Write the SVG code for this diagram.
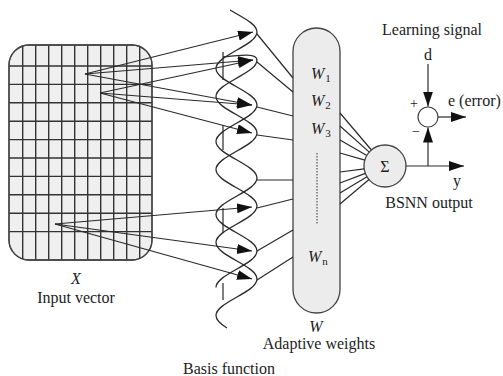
<svg xmlns="http://www.w3.org/2000/svg" width="503" height="376" viewBox="0 0 503 376">
  <style>
    .ln { fill: none; stroke: #2a2a2a; stroke-width: 1.2; }
    .grid { fill: none; stroke: #333; stroke-width: 1.4; }
    .box { fill: #ececec; stroke: #444; stroke-width: 1.3; }
    .wave { fill: none; stroke: #2a2a2a; stroke-width: 1.3; }
    .t { font-family: "Liberation Serif", "Times New Roman", serif; font-size: 16px; fill: #222; }
    .it { font-style: italic; }
    .mid { text-anchor: middle; }
    .sub { font-size: 11px; font-style: normal; }
  </style>
  <defs>
    <marker id="arrow" markerUnits="userSpaceOnUse" markerWidth="16" markerHeight="12" refX="15" refY="5" orient="auto">
      <path d="M0,0 L15,5 L0,10 Z" fill="#111"/>
    </marker>
    <clipPath id="gridClip">
      <rect x="9" y="45" width="143" height="215" rx="20" ry="20"/>
    </clipPath>
  </defs>

  <!-- input vector X: gridded rounded panel -->
  <g id="input-vector">
    <rect class="box" x="9" y="45" width="143" height="215" rx="20" ry="20" style="fill:#efefef"/>
    <path class="grid" clip-path="url(#gridClip)" d="
      M22.7,45V260 M35.7,45V260 M48.7,45V260 M61.7,45V260 M74.7,45V260
      M87.7,45V260 M100.7,45V260 M113.7,45V260 M126.7,45V260 M139.7,45V260
      M9,66H152 M9,84.4H152 M9,102.8H152 M9,121.2H152 M9,139.6H152
      M9,158H152 M9,176.4H152 M9,194.8H152 M9,213.2H152 M9,231.6H152"/>
    <rect x="9" y="45" width="143" height="215" rx="20" ry="20" fill="none" stroke="#444" stroke-width="1.3"/>
  </g>

  <!-- basis functions: two interleaved waves, drawn along u (down) with v (sideways) -->
  <g id="basis-functions">
    <g transform="matrix(0 1 1 0 236.5 0)">
      <path class="wave" d="M10,-6.5 L13.75,0 c5.95,10.5 11.645,20.5 18.25,20.5
        s12.3,-10 18.25,-20.5 s11.645,-20.5 18.25,-20.5 s12.3,10 18.25,20.5 s11.645,20.5 18.25,20.5
        s12.3,-10 18.25,-20.5 s11.645,-20.5 18.25,-20.5 s12.3,10 18.25,20.5 s11.645,20.5 18.25,20.5
        s12.3,-10 18.25,-20.5 s11.645,-20.5 18.25,-20.5 s12.3,10 18.25,20.5 s11.645,20.5 18.25,20.5
        s12.3,-10 18.25,-20.5 s11.645,-20.5 18.25,-20.5"/>
      <path class="wave" d="M57,-13.5 C55,4 53,20.5 60,20.5
        s12.3,-10 18.25,-20.5 s11.645,-20.5 18.25,-20.5 s12.3,10 18.25,20.5 s11.645,20.5 18.25,20.5
        s12.3,-10 18.25,-20.5 s11.645,-20.5 18.25,-20.5 s12.3,10 18.25,20.5 s11.645,20.5 18.25,20.5
        s12.3,-10 18.25,-20.5 s11.645,-20.5 18.25,-20.5 s12.3,10 18.25,20.5 s11.645,20.5 18.25,20.5
        s12.3,-10 18.25,-20.5 s11.645,-20.5 18.25,-20.5 c4.5,0 9.5,6 12.5,11"/>
    </g>
    <path class="ln" d="M223,52V80 M223,125V150 M223,208V233 M223,283V300"/>
  </g>

  <!-- adaptive weights column -->
  <g id="weights">
    <rect class="box" x="293" y="28" width="47" height="285" rx="23.5" ry="23.5"/>
    <text class="t it" x="311" y="79">W<tspan class="sub" dx="1" dy="3">1</tspan></text>
    <text class="t it" x="311" y="106">W<tspan class="sub" dx="1" dy="3">2</tspan></text>
    <text class="t it" x="311" y="134">W<tspan class="sub" dx="1" dy="3">3</tspan></text>
    <line x1="317" y1="153" x2="317" y2="224" stroke="#333" stroke-width="1" stroke-dasharray="1.5,1.5"/>
    <text class="t it" x="308" y="262">W<tspan class="sub" dx="1" dy="3">n</tspan></text>
  </g>

  <!-- summing node -->
  <g id="sum-node">
    <circle class="box" cx="385" cy="166" r="21"/>
    <text class="t mid" x="385" y="172">Σ</text>
  </g>

  <!-- error comparator -->
  <g id="error-node">
    <circle cx="428" cy="117" r="10" fill="#fff" stroke="#444" stroke-width="1.2"/>
  </g>

  <g id="connectors">
    <!-- input fans to basis functions -->
    <g class="ln" marker-end="url(#arrow)">
      <line x1="85" y1="74" x2="253" y2="32"/>
      <line x1="85" y1="74" x2="253" y2="60"/>
      <line x1="85" y1="74" x2="252" y2="105"/>
      <line x1="100" y1="93" x2="253" y2="60"/>
      <line x1="100" y1="93" x2="252" y2="105"/>
      <line x1="100" y1="93" x2="252" y2="133"/>
      <line x1="55" y1="224" x2="252" y2="207"/>
      <line x1="55" y1="224" x2="252" y2="251"/>
      <line x1="55" y1="224" x2="252" y2="279"/>
    </g>
    <!-- basis functions to weights -->
    <path class="ln" d="M257,34L293,78 M257,62L293,92 M257,107L293,116 M257,135L293,140
      M257,180L293,180 M257,208L293,199 M257,251L293,230 M257,280L293,257"/>
    <!-- weights to summing node -->
    <path class="ln" d="M340,113L371.4,150 M340,126L369.3,152.1 M340,140L366.8,155.5 M340,153L364.8,160.2
      M340,172L364.2,168.8 M340,183L365.3,173.4 M340,193L367,176.8 M340,204L369,179.5"/>
    <!-- output and learning loop -->
    <g class="ln" marker-end="url(#arrow)">
      <line x1="406" y1="166" x2="464" y2="166"/>
      <line x1="428" y1="166" x2="428" y2="127.5"/>
      <line x1="428" y1="64" x2="428" y2="106.5"/>
      <line x1="438" y1="117" x2="466" y2="117"/>
    </g>
  </g>

  <!-- labels -->
  <g id="labels">
    <text class="t mid" x="432" y="35">Learning signal</text>
    <text class="t mid" x="428" y="60">d</text>
    <text class="t mid" x="414" y="108" style="font-size:14px">+</text>
    <text class="t mid" x="416" y="136" style="font-size:14px">−</text>
    <text class="t" x="448" y="106">e (error)</text>
    <text class="t mid" x="457" y="186">y</text>
    <text class="t mid" x="429" y="208">BSNN output</text>
    <text class="t it mid" x="76" y="284">X</text>
    <text class="t mid" x="76" y="303">Input vector</text>
    <text class="t it mid" x="316" y="332">W</text>
    <text class="t mid" x="319" y="349">Adaptive weights</text>
    <text class="t mid" x="229" y="374">Basis function</text>
  </g>
</svg>
